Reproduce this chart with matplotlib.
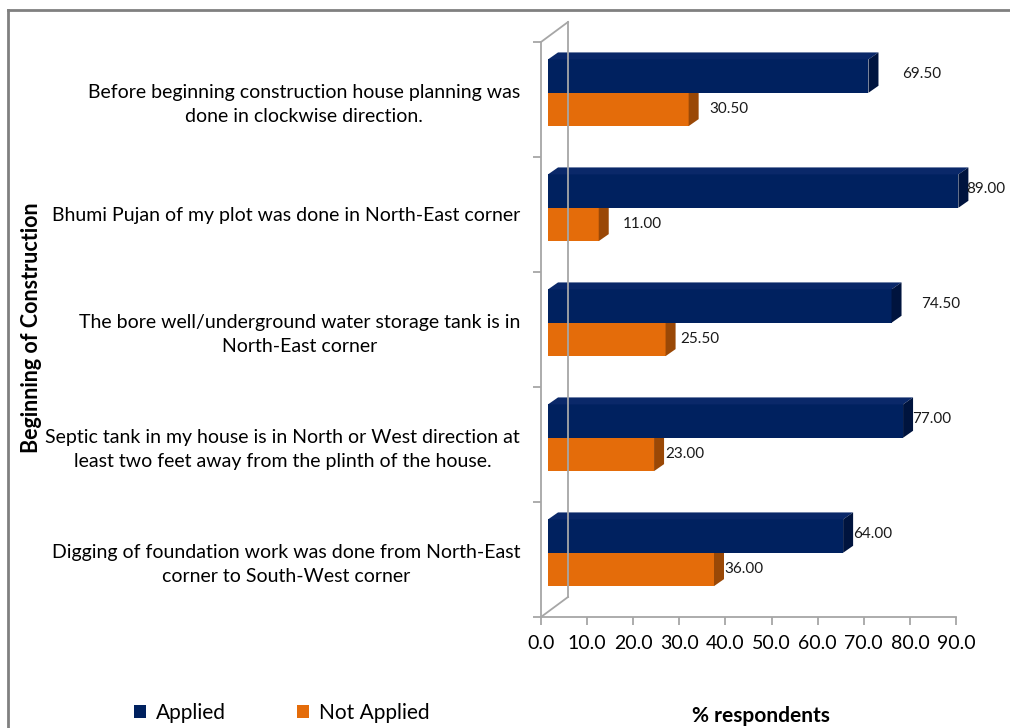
import matplotlib
matplotlib.use('Agg')
import matplotlib.pyplot as plt
import matplotlib.transforms as mtransforms
from matplotlib.patches import Polygon
from matplotlib.lines import Line2D
from matplotlib.patches import Patch

# categories, top to bottom as in the chart
categories = [
    "Before beginning construction house planning was\ndone in clockwise direction.",
    "Bhumi Pujan of my plot was done in North-East corner",
    "The bore well/underground water storage tank is in\nNorth-East corner",
    "Septic tank in my house is in North or West direction at\nleast two feet away from the plinth of the house.",
    "Digging of foundation work was done from North-East\ncorner to South-West corner",
]
applied = [69.50, 89.00, 74.50, 77.00, 64.00]
not_applied = [30.50, 11.00, 25.50, 23.00, 36.00]
x_ticks = [0, 10, 20, 30, 40, 50, 60, 70, 80, 90]

# label gap (pixels) after the bar side face, as placed in the original
pad_applied = [24, -2, 20, -1, 0]
pad_not_applied = [11, 14, 5, 1, 0]

FONT = 'Lato'
plt.rcParams['font.family'] = [FONT, 'DejaVu Sans']

W, H, DPI = 1010, 728, 100
fig = plt.figure(figsize=(W / DPI, H / DPI), dpi=DPI)
fig.patch.set_facecolor('white')

# front plane of the plot area in pixels
x0_px, x1_px = 541, 956
ytop_px, ybot_px = 42, 617
ax = fig.add_axes([x0_px / W, 1 - ybot_px / H, (x1_px - x0_px) / W, (ybot_px - ytop_px) / H])
ax.set_xlim(0, 90)
ax.set_ylim(-0.5, 4.5)
ax.patch.set_alpha(0)

px_x = (x1_px - x0_px) / 90.0      # pixels per x unit
px_y = (ybot_px - ytop_px) / 5.0   # pixels per y unit

ypos = [4 - i for i in range(len(categories))]

# 3D look: bar plane is shifted back, bars have a small depth
shift = mtransforms.offset_copy(ax.transData, fig=fig, x=7, y=5, units='dots')
dep_x = 10 / px_x
dep_y = 7 / px_y
bh = 0.29
split = 0.015

blue_front, blue_top, blue_side = '#00215F', '#0A2869', '#00143E'
org_front, org_top, org_side = '#E46C0A', '#C65D08', '#9A4806'


def bar3d(y_lo, val, front, top, side):
    ax.add_patch(Polygon([(0, y_lo), (val, y_lo), (val, y_lo + bh), (0, y_lo + bh)],
                         closed=True, facecolor=front, edgecolor='none',
                         transform=shift, clip_on=False))
    ax.add_patch(Polygon([(0, y_lo + bh), (val, y_lo + bh), (val + dep_x, y_lo + bh + dep_y),
                          (dep_x, y_lo + bh + dep_y)],
                         closed=True, facecolor=top, edgecolor='none',
                         transform=shift, clip_on=False))
    ax.add_patch(Polygon([(val, y_lo), (val + dep_x, y_lo + dep_y), (val + dep_x, y_lo + bh + dep_y),
                          (val, y_lo + bh)],
                         closed=True, facecolor=side, edgecolor='none',
                         transform=shift, clip_on=False))


for y, a, n, pa, pn in zip(ypos, applied, not_applied, pad_applied, pad_not_applied):
    bar3d(y + split - bh, n, org_front, org_top, org_side)
    bar3d(y + split, a, blue_front, blue_top, blue_side)
    ax.annotate(f"{a:.2f}", xy=(a, y + split + bh / 2), xycoords=shift,
                xytext=((10 + pa) * 72 / DPI, 2 * 72 / DPI), textcoords='offset points',
                ha='left', va='center', fontsize=11, color='#1a1a1a', annotation_clip=False)
    ax.annotate(f"{n:.2f}", xy=(n, y + split - bh / 2), xycoords=shift,
                xytext=((10 + pn) * 72 / DPI, 0), textcoords='offset points',
                ha='left', va='center', fontsize=11, color='#1a1a1a', annotation_clip=False)

# axes: front spines, ticks
axis_col = '#A6A6A6'
for s in ['top', 'right']:
    ax.spines[s].set_visible(False)
for s in ['left', 'bottom']:
    ax.spines[s].set_color(axis_col)
    ax.spines[s].set_linewidth(1.3)

ax.set_xticks(x_ticks)
ax.set_xticklabels([f"{t:.1f}" for t in x_ticks], fontsize=14)
ax.tick_params(axis='x', direction='out', length=6, width=1.3, color=axis_col, pad=7)

ax.set_yticks([-0.5, 0.5, 1.5, 2.5, 3.5, 4.5])
ax.set_yticklabels([])
ax.tick_params(axis='y', which='major', direction='out', length=6, width=1.3, color=axis_col)
ax.set_yticks(ypos, minor=True)
ax.set_yticklabels(categories, minor=True, fontsize=14)
ax.tick_params(axis='y', which='minor', length=0, pad=15)
for lab in ax.get_yticklabels(minor=True):
    lab.set_multialignment('center')
    lab.set_linespacing(1.5)

# back wall lines
bx = 27 / px_x
by = 20 / px_y
ax.plot([0, bx], [-0.5, -0.5 + by], color=axis_col, lw=1.3, clip_on=False)
ax.plot([0, bx], [4.5, 4.5 + by], color=axis_col, lw=1.3, clip_on=False)
ax.plot([bx, bx], [-0.5 + by, 4.5 + by], color=axis_col, lw=1.3, clip_on=False)

# titles
fig.text(32 / W, 1 - 328 / H, 'Beginning of Construction', rotation=90,
         ha='center', va='center', fontsize=15.5, fontweight='bold')
fig.text(761 / W, 1 - 716 / H, '% respondents', ha='center', va='center',
         fontsize=15, fontweight='bold')

handles = [Patch(facecolor=blue_front), Patch(facecolor=org_front)]
fig.legend(handles, ['Applied', 'Not Applied'], loc='center',
           bbox_to_anchor=(282 / W, 1 - 713 / H), ncol=2, frameon=False,
           fontsize=15, handlelength=0.55, handleheight=0.55, handletextpad=0.5,
           columnspacing=3.4)

# outer frame
frame_col = '#808080'
fig.add_artist(Line2D([8 / W, 1], [1 - 10 / H, 1 - 10 / H], color=frame_col, lw=2))
fig.add_artist(Line2D([8 / W, 8 / W], [0, 1 - 10 / H], color=frame_col, lw=2))

fig.savefig('out.png', dpi=DPI)
